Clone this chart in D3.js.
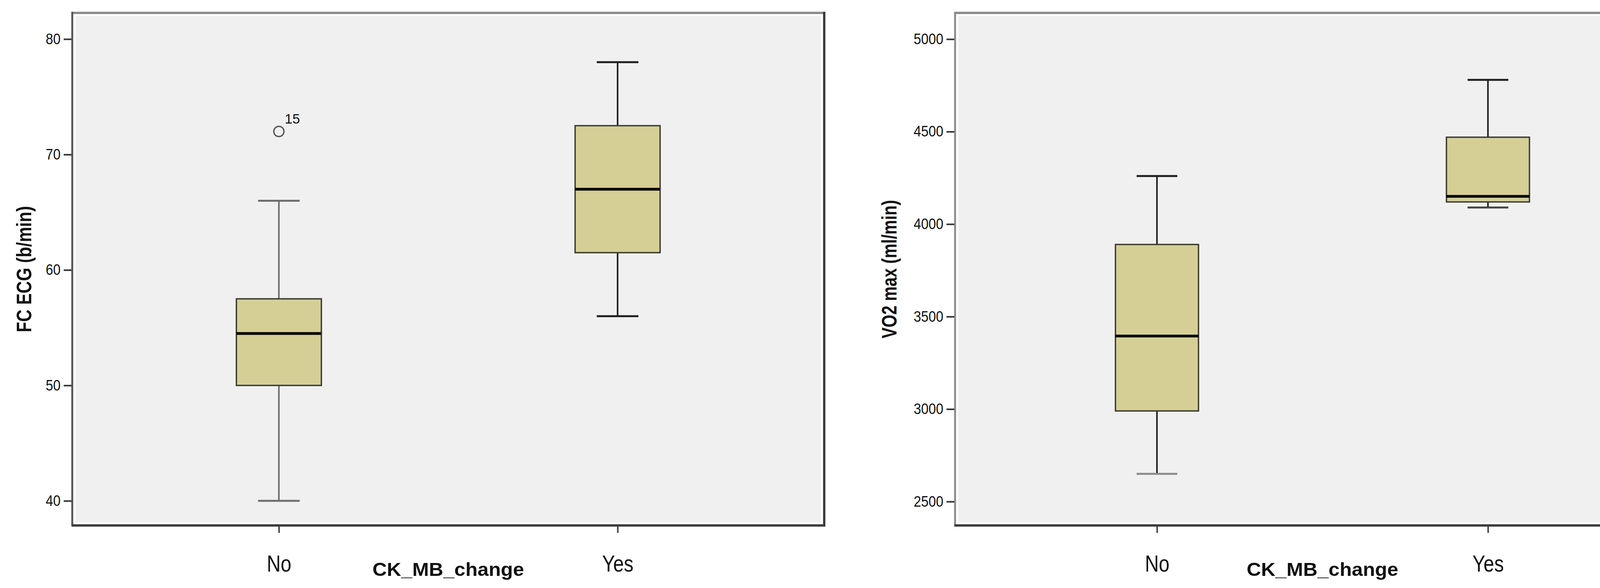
<!DOCTYPE html>
<html>
<head>
<meta charset="utf-8">
<script src="https://cdn.jsdelivr.net/npm/d3@7"></script>
<style>
  body { margin: 0; background: #fff; }
  svg { display: block; }
  text { font-family: "Liberation Sans", Arial, sans-serif; fill: #111; }
</style>
</head>
<body>
<div id="wrapper"></div>
<script>
// data
const categories = ["No", "Yes"];

// [lower whisker, Q1, median, Q3, upper whisker]
const fcStats = [[40, 50, 54.5, 57.5, 66], [56, 61.5, 67, 72.5, 78]];
const fcOutliers = [{ cat: "No", value: 72, label: "15" }];
const fcTicks = [40, 50, 60, 70, 80];
const fcDomain = [37.87, 82.27];

const vo2Stats = [[2650, 2990, 3395, 3890, 4260], [4090, 4120, 4150, 4470, 4780]];
const vo2Outliers = [];
const vo2Ticks = [2500, 3000, 3500, 4000, 4500, 5000];
const vo2Domain = [2371, 5142];

const xTitle = "CK_MB_change";

/* canvas */
const width = 4363, height = 1504;
const svg = d3.select("#wrapper").append("svg")
  .attr("width", width)
  .attr("height", height);

function narrow(sel, factor) {
  sel.each(function () {
    const w = this.getComputedTextLength();
    d3.select(this).attr("textLength", w * factor).attr("lengthAdjust", "spacingAndGlyphs");
  });
}

function drawPanel(p) {
  const left = p.left, right = p.right, top = 33, bottom = 1344;
  const g = svg.append("g");

  const x = d3.scalePoint().domain(categories).range([left, right]).padding(0.61);
  const y = d3.scaleLinear().domain(p.domain).range([bottom, top]);
  const boxW = (right - left) * 0.113;
  const capW = boxW * 0.49;

  // plot background with a thin white gap inside the frame
  g.append("rect")
    .attr("x", left + 8).attr("y", top + 8)
    .attr("width", right - left - 16).attr("height", bottom - top - 16)
    .attr("fill", "#f0f0f0");

  // frame
  g.append("line").attr("x1", left).attr("x2", right).attr("y1", top).attr("y2", top)
    .attr("stroke", "#8c8c8c").attr("stroke-width", 6);
  g.append("line").attr("x1", left).attr("x2", left).attr("y1", top - 3).attr("y2", bottom)
    .attr("stroke", p.leftFrame).attr("stroke-width", 5);
  g.append("line").attr("x1", right).attr("x2", right).attr("y1", top - 3).attr("y2", bottom + 3)
    .attr("stroke", "#3c3c3c").attr("stroke-width", 6);
  g.append("line").attr("x1", left - 2).attr("x2", right + 3).attr("y1", bottom).attr("y2", bottom)
    .attr("stroke", "#3c3c3c").attr("stroke-width", 6);

  // y axis
  const yAxis = g.append("g")
    .attr("transform", `translate(${left - 2},0)`)
    .call(d3.axisLeft(y).tickValues(p.ticks).tickSize(20).tickPadding(8).tickFormat(d3.format("d")));
  yAxis.select(".domain").remove();
  yAxis.selectAll(".tick line").attr("stroke", "#333").attr("stroke-width", 4);
  yAxis.selectAll(".tick text")
    .attr("font-size", 38)
    .attr("font-family", "Liberation Sans, Arial, sans-serif")
    .attr("fill", "#222")
    .call(narrow, 0.9);

  // x axis
  const xAxis = g.append("g")
    .attr("transform", `translate(0,${bottom + 2})`)
    .call(d3.axisBottom(x).tickSize(17).tickPadding(56));
  xAxis.select(".domain").remove();
  xAxis.selectAll(".tick line").attr("stroke", "#444").attr("stroke-width", 4);
  xAxis.selectAll(".tick text")
    .attr("font-size", 60)
    .attr("font-family", "Liberation Sans, Arial, sans-serif")
    .attr("fill", "#111")
    .call(narrow, 0.82);

  // boxes
  const boxes = g.selectAll(".box")
    .data(p.stats.map((s, i) => ({ cat: categories[i], s: s, i: i })))
    .enter().append("g").attr("class", "box");

  boxes.each(function (d) {
    const b = d3.select(this);
    const cx = x(d.cat);
    const wc = p.whiskerColor[d.i];
    // whiskers
    b.append("line").attr("x1", cx).attr("x2", cx).attr("y1", y(d.s[4])).attr("y2", y(d.s[3]))
      .attr("stroke", wc).attr("stroke-width", 4);
    b.append("line").attr("x1", cx).attr("x2", cx).attr("y1", y(d.s[1])).attr("y2", y(d.s[0]))
      .attr("stroke", wc).attr("stroke-width", 4);
    b.append("line").attr("x1", cx - capW / 2).attr("x2", cx + capW / 2)
      .attr("y1", y(d.s[4])).attr("y2", y(d.s[4]))
      .attr("stroke", wc).attr("stroke-width", 5);
    b.append("line").attr("x1", cx - capW / 2).attr("x2", cx + capW / 2)
      .attr("y1", y(d.s[0])).attr("y2", y(d.s[0]))
      .attr("stroke", p.lowCapColor[d.i]).attr("stroke-width", 5);
    // box
    b.append("rect")
      .attr("x", cx - boxW / 2).attr("width", boxW)
      .attr("y", y(d.s[3])).attr("height", y(d.s[1]) - y(d.s[3]))
      .attr("fill", "#d5cf96").attr("stroke", "#3a3a30").attr("stroke-width", 3.5);
    // median
    b.append("line").attr("x1", cx - boxW / 2).attr("x2", cx + boxW / 2)
      .attr("y1", y(d.s[2])).attr("y2", y(d.s[2]))
      .attr("stroke", "#000").attr("stroke-width", 7);
  });

  // outliers
  g.selectAll(".outlier")
    .data(p.outliers)
    .enter().append("circle")
    .attr("cx", d => x(d.cat)).attr("cy", d => y(d.value))
    .attr("r", 13).attr("fill", "none").attr("stroke", "#555").attr("stroke-width", 3.5);
  g.selectAll(".outlierLabel")
    .data(p.outliers)
    .enter().append("text")
    .attr("x", d => x(d.cat) + 15).attr("y", d => y(d.value) - 20)
    .attr("font-size", 35)
    .text(d => d.label);

  // axis titles
  g.append("text")
    .attr("x", (left + right) / 2).attr("y", 1473)
    .attr("text-anchor", "middle")
    .attr("font-size", 49).attr("font-weight", "bold")
    .attr("textLength", 388).attr("lengthAdjust", "spacingAndGlyphs")
    .text(xTitle);
  g.append("text")
    .attr("transform", `translate(${p.titleX},${(top + bottom) / 2}) rotate(-90)`)
    .attr("text-anchor", "middle")
    .attr("font-size", 54).attr("font-weight", "bold")
    .attr("textLength", p.titleLen).attr("lengthAdjust", "spacingAndGlyphs")
    .text(p.yTitle);
}

drawPanel({
  left: 185, right: 2110,
  stats: fcStats, outliers: fcOutliers, ticks: fcTicks, domain: fcDomain,
  yTitle: "FC ECG (b/min)", titleX: 80, titleLen: 323,
  leftFrame: "#555",
  whiskerColor: ["#6e6e6e", "#1e1e1e"], lowCapColor: ["#6e6e6e", "#1e1e1e"]
});

drawPanel({
  left: 2445, right: 4326,
  stats: vo2Stats, outliers: vo2Outliers, ticks: vo2Ticks, domain: vo2Domain,
  yTitle: "VO2 max (ml/min)", titleX: 2295, titleLen: 354,
  leftFrame: "#8c8c8c",
  whiskerColor: ["#1e1e1e", "#1e1e1e"], lowCapColor: ["#8a8a8a", "#444"]
});
</script>
</body>
</html>
